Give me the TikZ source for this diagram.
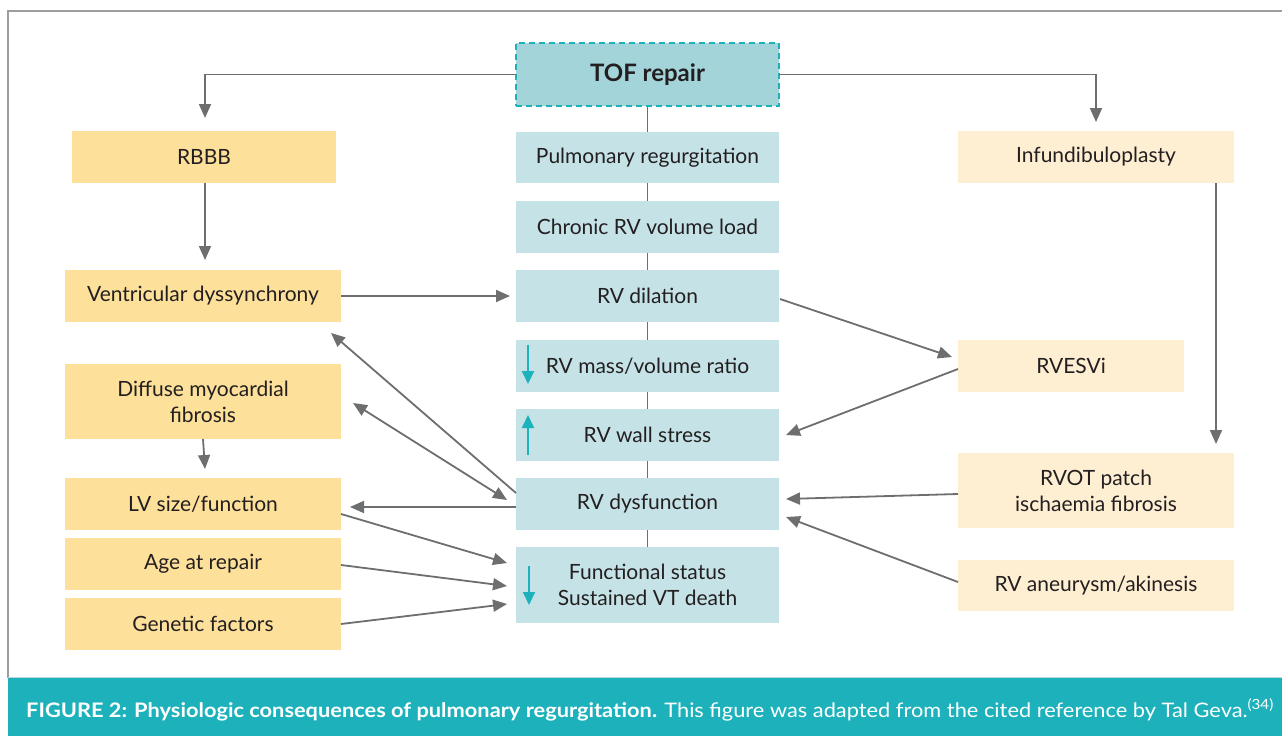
\documentclass[tikz,border=0pt]{standalone}
\usepackage{fontspec}
\setmainfont{Lato}
\usetikzlibrary{arrows.meta,calc,backgrounds}
\definecolor{capteal}{HTML}{1DB2BB}
\definecolor{tofblue}{HTML}{A3D4DA}
\definecolor{boxblue}{HTML}{C5E3E7}
\definecolor{boxyel}{HTML}{FDE09A}
\definecolor{boxcream}{HTML}{FEEFD3}
\definecolor{arrgray}{HTML}{6D6E70}
\definecolor{txtdark}{HTML}{231F20}
\definecolor{framegray}{HTML}{9D9D9D}
\definecolor{capline}{HTML}{B9DADE}
\tikzset{
  box/.style={inner sep=0pt, outer sep=0pt, draw=none, align=center, text=txtdark,
    font=\fontsize{21}{26}\selectfont},
  cbox/.style={box, fill=boxblue, minimum width=263pt, minimum height=52pt},
  lbox/.style={box, fill=boxyel, minimum width=276pt, minimum height=52pt},
  rbox/.style={box, fill=boxcream, minimum width=276pt, minimum height=52pt},
  conn/.style={draw=arrgray, line width=1.8pt, -{Triangle[length=14pt,width=12pt]}},
  biconn/.style={draw=arrgray, line width=1.8pt, {Triangle[length=14pt,width=12pt]}-{Triangle[length=14pt,width=12pt]}},
  tarrow/.style={draw=capteal, line width=2pt, -{Triangle[length=13pt,width=12pt]}},
}
\begin{document}
\begin{tikzpicture}[x=1pt,y=-1pt]
\useasboundingbox (0,0) rectangle (1282,736);
% frame
\draw[framegray, line width=2pt] (1283,11) -- (8,11) -- (8,678);
% caption band
\fill[capteal] (8,678) rectangle (1283,737);
\draw[capline, line width=1pt] (8,677.5) -- (1283,677.5);
\node[anchor=base west, inner sep=0pt, text=white, font=\fontsize{20}{24}\selectfont] (cap) at (26,717)
  {\scalebox{1.09}[1]{\textbf{FIGURE 2: Physiologic consequences of pulmonary regurgitation.} This figure was adapted from the cited reference by Tal Geva.\textsuperscript{(34)}}};

% TOF
\node[box, fill=tofblue, draw=capteal, line width=1.5pt, dash pattern=on 6pt off 4pt,
  minimum width=263pt, minimum height=63pt, font=\fontsize{24}{28}\selectfont\bfseries] (tof) at (647.5,74.5) {TOF repair};

% center column
\node[cbox, minimum height=51pt] (pulm) at (647.5,157.5) {Pulmonary regurgitation};
\node[cbox] (chron) at (647.5,227) {Chronic RV volume load};
\node[cbox] (dil) at (647.5,296) {RV dilation};
\node[cbox] (mass) at (647.5,366) {RV mass/volume ratio};
\node[cbox] (wall) at (647.5,435) {RV wall stress};
\node[cbox] (dysf) at (647.5,504) {RV dysfunction};
\node[cbox, minimum height=76pt] (func) at (647.5,585) {Functional status\\Sustained VT death};

% left column
\node[lbox, minimum width=264pt] (rbbb) at (204,157) {RBBB};
\node[lbox] (vent) at (203,296) {Ventricular dyssynchrony};
\node[lbox, minimum height=75pt] (diff) at (203,401.5) {Diffuse myocardial\\fibrosis};
\node[lbox] (lv) at (203,504) {LV size/function};
\node[lbox] (age) at (203,564) {Age at repair};
\node[lbox] (gen) at (203,624) {Genetic factors};

% right column
\node[rbox] (inf) at (1096,157) {Infundibuloplasty};
\node[rbox, minimum width=226pt] (rvesvi) at (1071,366) {RVESVi};
\node[rbox, minimum height=75pt] (rvot) at (1096,490.5) {RVOT patch\\ischaemia fibrosis};
\node[rbox, minimum height=51pt] (aneu) at (1096,585.5) {RV aneurysm/akinesis};

% central spine
\begin{scope}[on background layer]
\draw[arrgray, line width=1.8pt] (tof.south) -- (func.north);
\end{scope}

% teal up/down arrows
\draw[tarrow] ($(mass.west)+(12,-21)$) -- ($(mass.west)+(12,18)$);
\draw[tarrow] ($(wall.west)+(12,20)$) -- ($(wall.west)+(12,-20)$);
\draw[tarrow] ($(func.west)+(13,-19)$) -- ($(func.west)+(13,20)$);

% connectors
\draw[conn] (tof.west) -| ($(rbbb.north)+(1,-13)$);
\draw[conn] (tof.east) -| ($(inf.north)+(0,-9)$);
\draw[conn] ($(rbbb.south)+(1,0)$) -- ($(vent.north)+(2,-10)$);
\draw[conn] (vent.east) -- ($(dil.west)+(-6,0)$);
\draw[conn] ($(dil.east)+(1,3)$) -- ($(rvesvi.west)+(-6,-9)$);
\draw[conn] ($(rvesvi.west)+(0,3)$) -- ($(wall.east)+(7,0)$);
\draw[conn] ($(inf.south)+(120,0)$) -- ($(rvot.north)+(120,-9)$);
\draw[conn] ($(rvot.west)+(0,3.5)$) -- ($(dysf.east)+(7,-5)$);
\draw[conn] ($(aneu.west)+(0,-3.5)$) -- ($(dysf.east)+(7,13)$);
\draw[conn] ($(dysf.west)+(0,-11)$) -- ($(vent.south east)+(-10,11)$);
\draw[biconn] ($(dysf.west)+(-9,-4)$) -- ($(diff.east)+(12,1.5)$);
\draw[conn] ($(dysf.west)+(0,3)$) -- ($(lv.east)+(9,3)$);
\draw[conn] (diff.south) -- ($(lv.north)+(2,-9)$);
\draw[conn] ($(lv.east)+(0,10)$) -- ($(func.west)+(-9,-22)$);
\draw[conn] ($(age.east)+(0,1)$) -- ($(func.west)+(-9,1)$);
\draw[conn] (gen.east) -- ($(func.west)+(-9,19)$);
\end{tikzpicture}
\end{document}
